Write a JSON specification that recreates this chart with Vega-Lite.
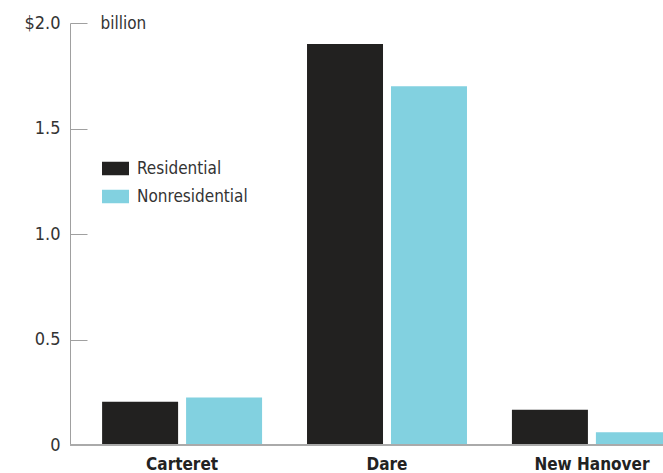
{
  "$schema": "https://vega.github.io/schema/vega-lite/v6.json",
  "width": 593,
  "height": 422,
  "autosize": {"type": "none"},
  "padding": {"left": 70, "top": 23, "right": 0, "bottom": 28},
  "background": "white",
  "config": {
    "font": "'DejaVu Sans Condensed', Lato, sans-serif",
    "view": {"stroke": null}
  },
  "data": {
    "values": [
      {"county": "Carteret", "type": "Residential", "value": 0.205},
      {"county": "Carteret", "type": "Nonresidential", "value": 0.225},
      {"county": "Dare", "type": "Residential", "value": 1.9},
      {"county": "Dare", "type": "Nonresidential", "value": 1.7},
      {"county": "New Hanover", "type": "Residential", "value": 0.167},
      {"county": "New Hanover", "type": "Nonresidential", "value": 0.06}
    ]
  },
  "layer": [
    {
      "mark": {"type": "bar", "clip": true},
      "encoding": {
        "x": {
          "field": "county",
          "type": "nominal",
          "sort": ["Carteret", "Dare", "New Hanover"],
          "scale": {"range": [0, 634], "paddingInner": 0.18, "paddingOuter": 0.137},
          "axis": {
            "title": null,
            "domain": false,
            "ticks": false,
            "labelAngle": 0,
            "labelFontWeight": "bold",
            "labelFontSize": 17,
            "labelColor": "#222",
            "labelPadding": 11
          }
        },
        "xOffset": {
          "field": "type",
          "sort": ["Residential", "Nonresidential"],
          "scale": {"paddingInner": 0.095, "paddingOuter": 0.048}
        },
        "y": {
          "field": "value",
          "type": "quantitative",
          "scale": {"domain": [0, 2], "nice": false},
          "axis": {
            "title": "billion",
            "titleAngle": 0,
            "titleX": 30,
            "titleY": 0,
            "titleAlign": "left",
            "titleBaseline": "middle",
            "titleFontWeight": "normal",
            "titleFontSize": 17,
            "titleColor": "#333",
            "values": [0, 0.5, 1, 1.5, 2],
            "labelExpr": "datum.value == 2 ? '$2.0' : datum.value == 0 ? '0' : format(datum.value, '.1f')",
            "labelFontSize": 18,
            "labelColor": "#333",
            "labelPadding": 27,
            "tickSize": -17,
            "tickColor": "#a0a0a0",
            "tickWidth": 1,
            "domainColor": "#a0a0a0",
            "domainWidth": 1,
            "grid": false
          }
        },
        "color": {
          "field": "type",
          "sort": ["Residential", "Nonresidential"],
          "scale": {"domain": ["Residential", "Nonresidential"], "range": ["#222120", "#82d1e0"]},
          "legend": {
            "title": null,
            "orient": "none",
            "legendX": 32,
            "legendY": 132,
            "padding": 0,
            "symbolType": "M-1,-0.5H1V0.5H-1Z",
            "symbolSize": 729,
            "symbolStrokeWidth": 0,
            "symbolOpacity": 1,
            "labelOffset": 8,
            "labelFontSize": 17,
            "labelColor": "#333",
            "rowPadding": 6
          }
        }
      }
    },
    {
      "mark": {"type": "rule", "color": "#aaa", "strokeWidth": 2},
      "encoding": {"y": {"datum": 0}}
    }
  ]
}
